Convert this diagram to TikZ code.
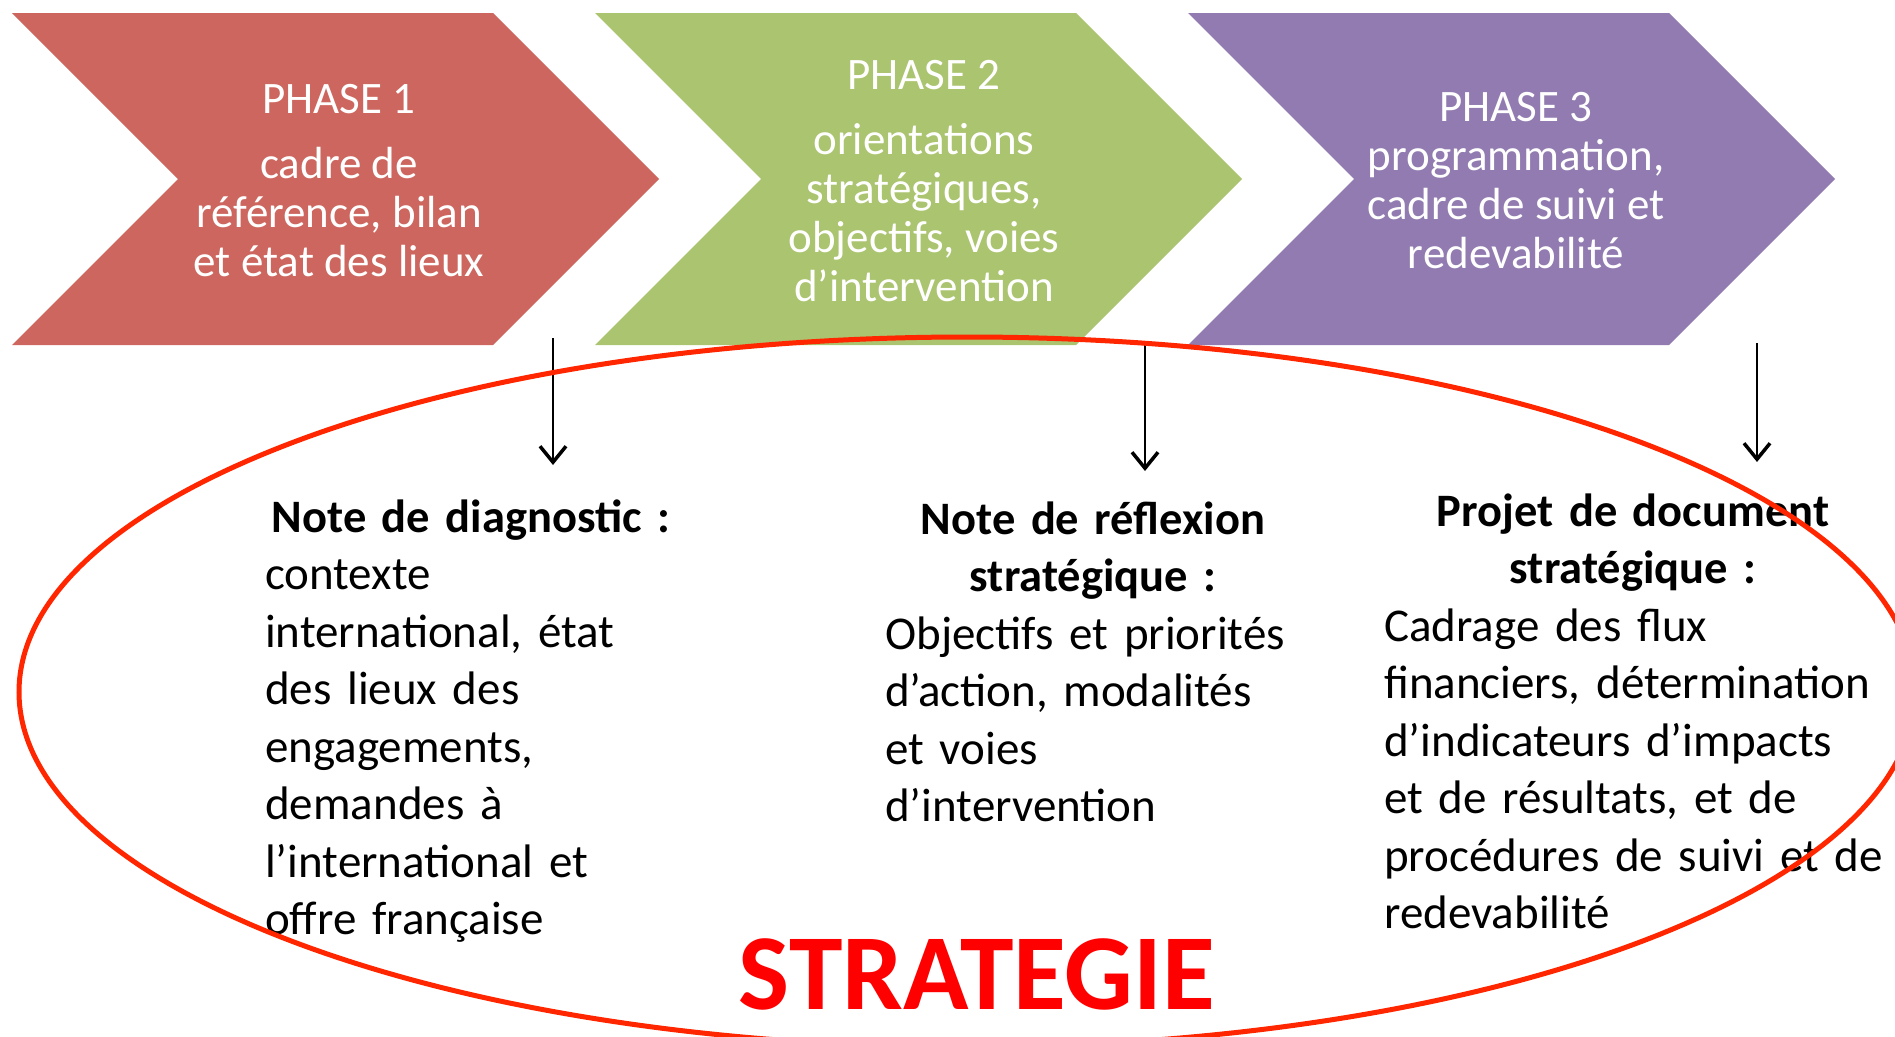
\documentclass[tikz,border=0pt]{standalone}
\usepackage{fontspec}
\setmainfont{Carlito}
\usetikzlibrary{arrows.meta, positioning}
\definecolor{phaseone}{RGB}{204,102,94}
\definecolor{phasetwo}{RGB}{171,196,111}
\definecolor{phasethree}{RGB}{146,123,176}
\definecolor{ringred}{RGB}{255,38,0}
\tikzstyle{chevtext} = [text=white, align=center, font=\fontsize{45}{49}\selectfont]
\tikzstyle{notehead} = [align=center, anchor=base, inner sep=0pt, font=\bfseries\fontsize{46.5}{57.5}\selectfont]
\tikzstyle{notetext} = [align=left, anchor=base west, inner sep=0pt, text width=600pt, font=\fontsize{47}{57.5}\selectfont]
\tikzstyle{arrow} = [line width=2.4pt, -{Straight Barb[length=16pt,width=26pt,line width=3.5pt]}]

\begin{document}
\begin{tikzpicture}[x=1pt, y=-1pt]
    \useasboundingbox (0,0) rectangle (1895,1036);

    % Chevrons
    \foreach \x/\col in {12/phaseone, 595/phasetwo, 1188/phasethree}
        \fill[\col] (\x,13) -- ++(481,0) -- ++(166,166) -- ++(-166,166) -- ++(-481,0) -- ++(166,-166) -- cycle;

    % Nodes
    \node (ph1) [chevtext] at (339,181) {PHASE 1\\[16pt] cadre de\\ référence, bilan\\ et état des lieux};
    \node (ph2) [chevtext] at (924,181) {PHASE 2\\[16pt] orientations\\ stratégiques,\\ objectifs, voies\\ d’intervention};
    \node (ph3) [chevtext] at (1516,181) {PHASE 3\\ programmation,\\ cadre de suivi et\\ redevabilité};

    \node (diaghead) [notehead, text width=412pt] at (471,532) {Note de diagnostic :};
    \node (diag) [notetext] at (265,589.5) {contexte\\ international, état\\ des lieux des\\ engagements,\\ demandes à\\ l’international et\\ offre française};
    \node (reflhead) [notehead, text width=416pt] at (1093,534) {Note de réflexion\\ stratégique :};
    \node (refl) [notetext] at (885,649) {Objectifs et priorités\\ d’action, modalités\\ et voies\\ d’intervention};
    \node (projhead) [notehead, text width=498pt] at (1633,526) {Projet de document\\ stratégique :};
    \node (proj) [notetext] at (1384,641) {Cadrage des flux\\ financiers, détermination\\ d’indicateurs d’impacts\\ et de résultats, et de\\ procédures de suivi et de\\ redevabilité};

    \node (strat) [anchor=base, text=red, font=\bfseries\fontsize{108}{108}\selectfont] at (977,1009) {STRATEGIE};

    % Connections
    \coordinate (s1) at (553,338);
    \coordinate (e1) at (553,465);
    \coordinate (s2) at (1145,345);
    \coordinate (e2) at (1145,471);
    \coordinate (s3) at (1757,343);
    \coordinate (e3) at (1757,462);
    \draw [arrow] (s1) -- (e1);
    \draw [arrow] (s2) -- (e2);
    \draw [arrow] (s3) -- (e3);

    % Ring
    \draw [ringred, line width=5pt] (967,692) ellipse [x radius=948pt, y radius=355pt];
\end{tikzpicture}
\end{document}
